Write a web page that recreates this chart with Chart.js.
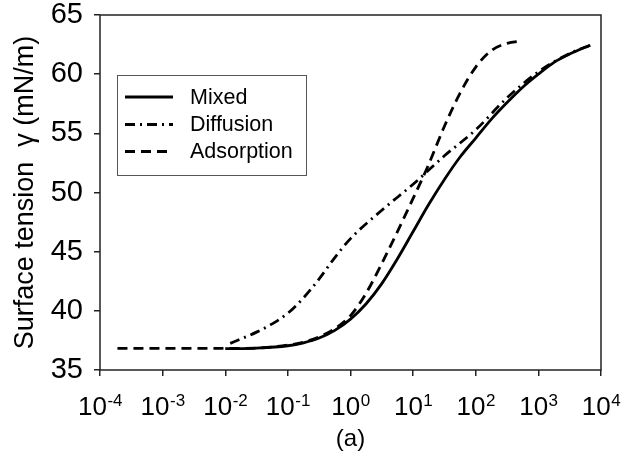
<!DOCTYPE html>
<html>
<head>
<meta charset="utf-8">
<script src="https://cdn.jsdelivr.net/npm/chart.js@4"></script>
<style>
  html, body { margin: 0; padding: 0; background: #fff; }
  canvas { display: block; }
</style>
</head>
<body>
<canvas id="chart" width="625" height="455"></canvas>
<script>
// Surface tension vs time, three models

const mixedTime = [1e-2, 3.16e-2, 1e-1, 0.178, 0.316, 0.562, 1, 1.78, 3.16, 5.62, 10, 17.8, 31.6, 56.2, 100, 178, 316, 562, 1000, 1780, 3160, 6760];
const mixedTension = [36.8, 36.85, 37.05, 37.3, 37.7, 38.35, 39.3, 40.6, 42.3, 44.4, 46.7, 49.0, 51.1, 53.0, 54.6, 56.2, 57.6, 58.9, 60.0, 61.0, 61.7, 62.45];

const diffusionTime = [1.2e-2, 3.16e-2, 5.62e-2, 1e-1, 0.178, 0.316, 0.562, 1, 3.16, 10, 31.6, 100, 316, 1000, 3160, 6760];
const diffusionTension = [37.25, 38.2, 38.9, 39.8, 41.1, 42.7, 44.5, 46.1, 48.5, 50.7, 53.1, 55.3, 58.0, 60.2, 61.75, 62.45];

const adsorptionTime = [1.9e-4, 1e-3, 1e-2, 3.16e-2, 1e-1, 0.178, 0.316, 0.562, 1, 1.78, 3.16, 5.62, 10, 17.8, 31.6, 56.2, 100, 178, 316, 550];
const adsorptionTension = [36.82, 36.82, 36.82, 36.85, 37.1, 37.35, 37.8, 38.5, 39.6, 41.5, 44.0, 46.7, 49.5, 52.4, 55.6, 58.4, 60.6, 62.0, 62.6, 62.8];

const xTickValues = [1e-4, 1e-3, 1e-2, 1e-1, 1, 10, 100, 1000, 10000];
const xTickBase = '10';
const xTickExponents = ['-4', '-3', '-2', '-1', '0', '1', '2', '3', '4'];

const seriesNames = ['Mixed', 'Diffusion', 'Adsorption'];
const seriesDash = [[], [10, 5, 2, 5], [10, 6]];

const FONT = '"Liberation Sans", Arial, sans-serif';

function toPoints(xs, ys) {
    return xs.map((x, i) => ({ x: x, y: ys[i] }));
}

// box around the plot area
const framePlugin = {
    id: 'frame',
    afterDraw(chart) {
        const { ctx, chartArea: a } = chart;
        ctx.save();
        ctx.strokeStyle = '#222';
        ctx.lineWidth = 1.5;
        ctx.strokeRect(a.left, a.top, a.right - a.left, a.bottom - a.top);
        ctx.restore();
    }
};

// x tick labels as 10 with a raised exponent
const powerLabelsPlugin = {
    id: 'powerLabels',
    afterDraw(chart) {
        const ctx = chart.ctx;
        const scale = chart.scales.x;
        const baseFont = '26px ' + FONT;
        const expFont = '17px ' + FONT;
        const baseY = scale.top + 45;
        ctx.save();
        ctx.fillStyle = '#000';
        ctx.textBaseline = 'alphabetic';
        ctx.textAlign = 'left';
        xTickValues.forEach((v, i) => {
            ctx.font = baseFont;
            const wBase = ctx.measureText(xTickBase).width;
            ctx.font = expFont;
            const wExp = ctx.measureText(xTickExponents[i]).width;
            const x0 = scale.getPixelForValue(v) - (wBase + wExp) / 2;
            ctx.font = baseFont;
            ctx.fillText(xTickBase, x0, baseY);
            ctx.font = expFont;
            ctx.fillText(xTickExponents[i], x0 + wBase + 0.5, baseY - 9);
        });
        ctx.restore();
    }
};

// legend box drawn inside the plot, upper left
const boxLegendPlugin = {
    id: 'boxLegend',
    afterDraw(chart) {
        const ctx = chart.ctx;
        const rowsY = [97, 124.5, 151.5];
        ctx.save();
        ctx.fillStyle = '#fff';
        ctx.fillRect(117, 75, 189, 100);
        ctx.strokeStyle = '#555';
        ctx.lineWidth = 1;
        ctx.strokeRect(117.5, 75.5, 189, 100);
        chart.data.datasets.forEach((ds, i) => {
            ctx.strokeStyle = '#000';
            ctx.lineWidth = 2.8;
            ctx.setLineDash(ds.borderDash || []);
            ctx.beginPath();
            ctx.moveTo(125, rowsY[i]);
            ctx.lineTo(173, rowsY[i]);
            ctx.stroke();
            ctx.setLineDash([]);
            ctx.fillStyle = '#000';
            ctx.font = '21.5px ' + FONT;
            ctx.textBaseline = 'middle';
            ctx.fillText(ds.label, 190, rowsY[i] + 1);
        });
        ctx.restore();
    }
};

const ctx = document.getElementById('chart').getContext('2d');

new Chart(ctx, {
    type: 'line',
    data: {
        datasets: [
            { data: toPoints(mixedTime, mixedTension) },
            { data: toPoints(diffusionTime, diffusionTension) },
            { data: toPoints(adsorptionTime, adsorptionTension) }
        ].map((d, i) => ({
            label: seriesNames[i],
            data: d.data,
            borderColor: '#000',
            borderWidth: 2.8,
            borderDash: seriesDash[i],
            pointRadius: 0,
            fill: false,
            cubicInterpolationMode: 'monotone'
        }))
    },
    options: {
        responsive: false,
        animation: false,
        layout: {
            padding: { top: 15, right: 24, bottom: 0, left: 0 }
        },
        plugins: {
            legend: { display: false },
            tooltip: { enabled: false }
        },
        scales: {
            x: {
                type: 'logarithmic',
                min: 1e-4,
                max: 1e4,
                afterBuildTicks: scale => {
                    scale.ticks = xTickValues.map(v => ({ value: v }));
                },
                afterFit: scale => {
                    scale.height = 85;
                    scale.paddingLeft = 0;
                    scale.paddingRight = 0;
                },
                border: { display: false },
                grid: {
                    drawOnChartArea: false,
                    drawTicks: true,
                    tickLength: 6,
                    tickColor: '#222',
                    lineWidth: 1.5
                },
                ticks: {
                    display: false,
                    autoSkip: false
                },
                title: {
                    display: true,
                    text: '(a)',
                    color: '#000',
                    font: { family: FONT, size: 24 },
                    padding: { top: 0, bottom: 1 }
                }
            },
            y: {
                min: 35,
                max: 65,
                afterFit: scale => {
                    scale.width = 100;
                    scale.paddingTop = 0;
                    scale.paddingBottom = 0;
                },
                border: { display: false },
                grid: {
                    drawOnChartArea: false,
                    drawTicks: true,
                    tickLength: 6,
                    tickColor: '#222',
                    lineWidth: 1.5
                },
                ticks: {
                    stepSize: 5,
                    padding: 11,
                    color: '#000',
                    font: { family: FONT, size: 29 }
                },
                title: {
                    display: true,
                    text: 'Surface tension  γ (mN/m)',
                    color: '#000',
                    font: { family: FONT, size: 27 },
                    padding: { top: 9, bottom: 0 }
                }
            }
        }
    },
    plugins: [framePlugin, powerLabelsPlugin, boxLegendPlugin]
});
</script>
</body>
</html>
